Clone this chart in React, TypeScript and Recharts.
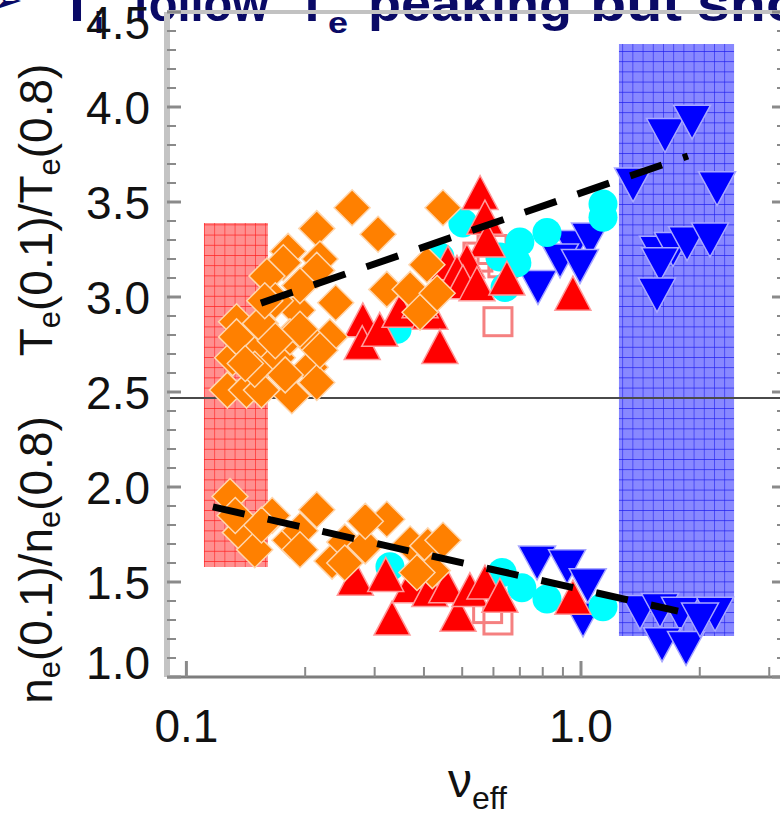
import React from "react";
import { ScatterChart, Scatter, XAxis, YAxis, ReferenceArea, ReferenceLine } from "recharts";

// collisionality axis (log) and the two peaking ratios sharing one y scale
const X_TICKS = [0.1, 0.2, 0.3, 0.4, 0.5, 0.6, 0.7, 0.8, 0.9, 1, 2, 3];
const X_LABELED = [0.1, 1];
const Y_TICKS = [
  1.0, 1.1, 1.2, 1.3, 1.4, 1.5, 1.6, 1.7, 1.8, 1.9,
  2.0, 2.1, 2.2, 2.3, 2.4, 2.5, 2.6, 2.7, 2.8, 2.9,
  3.0, 3.1, 3.2, 3.3, 3.4, 3.5, 3.6, 3.7, 3.8, 3.9,
  4.0, 4.1, 4.2, 4.3, 4.4, 4.5,
];
const Y_LABELED = [1.0, 1.5, 2.0, 2.5, 3.0, 3.5, 4.0, 4.5];

// Te(0.1)/Te(0.8) vs nu_eff
const ORANGE_TE = [
  { nu: 0.263, ratio: 3.47 }, { nu: 0.306, ratio: 3.33 }, { nu: 0.214, ratio: 3.36 },
  { nu: 0.447, ratio: 3.47 }, { nu: 0.181, ratio: 3.24 }, { nu: 0.218, ratio: 3.2 },
  { nu: 0.176, ratio: 3.18 }, { nu: 0.16, ratio: 3.11 }, { nu: 0.134, ratio: 2.87 },
  { nu: 0.131, ratio: 2.68 }, { nu: 0.127, ratio: 2.51 }, { nu: 0.142, ratio: 2.51 },
  { nu: 0.155, ratio: 2.51 }, { nu: 0.185, ratio: 2.48 }, { nu: 0.239, ratio: 2.97 },
  { nu: 0.214, ratio: 3.14 }, { nu: 0.231, ratio: 2.79 }, { nu: 0.206, ratio: 2.63 },
  { nu: 0.17, ratio: 2.68 }, { nu: 0.154, ratio: 2.86 }, { nu: 0.191, ratio: 2.93 },
  { nu: 0.145, ratio: 2.72 }, { nu: 0.134, ratio: 2.79 }, { nu: 0.149, ratio: 2.62 },
  { nu: 0.183, ratio: 2.79 }, { nu: 0.206, ratio: 2.77 }, { nu: 0.168, ratio: 2.98 },
  { nu: 0.194, ratio: 3.06 }, { nu: 0.214, ratio: 2.55 }, { nu: 0.158, ratio: 2.98 },
  { nu: 0.194, ratio: 2.83 }, { nu: 0.178, ratio: 2.59 }, { nu: 0.141, ratio: 2.65 },
  { nu: 0.218, ratio: 2.72 }, { nu: 0.168, ratio: 2.77 },
  { nu: 0.322, ratio: 3.04 }, { nu: 0.369, ratio: 3.04 }, { nu: 0.391, ratio: 2.92 },
  { nu: 0.432, ratio: 3.02 }, { nu: 0.407, ratio: 3.17 },
];
const RED_TE = [
  { nu: 0.555, ratio: 3.55 }, { nu: 0.571, ratio: 3.42 }, { nu: 0.578, ratio: 3.3 },
  { nu: 0.46, ratio: 3.18 }, { nu: 0.514, ratio: 3.19 }, { nu: 0.485, ratio: 3.13 },
  { nu: 0.502, ratio: 3.08 }, { nu: 0.545, ratio: 3.07 }, { nu: 0.649, ratio: 3.1 },
  { nu: 0.28, ratio: 2.88 }, { nu: 0.279, ratio: 2.76 }, { nu: 0.309, ratio: 2.83 },
  { nu: 0.348, ratio: 2.93 }, { nu: 0.414, ratio: 2.92 }, { nu: 0.439, ratio: 2.74 },
  { nu: 0.954, ratio: 3.02 }, { nu: 0.391, ratio: 2.98 },
];
const CYAN_TE = [
  { nu: 0.502, ratio: 3.39 }, { nu: 0.7, ratio: 3.29 }, { nu: 0.82, ratio: 3.34 },
  { nu: 1.137, ratio: 3.49 }, { nu: 1.137, ratio: 3.42 }, { nu: 0.642, ratio: 3.05 },
  { nu: 0.342, ratio: 2.83 }, { nu: 0.439, ratio: 3.21 }, { nu: 0.688, ratio: 3.18 },
  { nu: 0.623, ratio: 3.21 },
];
const PINK_TE = [
  { nu: 0.616, ratio: 2.87 }, { nu: 0.548, ratio: 3.21 }, { nu: 0.595, ratio: 3.25 },
  { nu: 0.634, ratio: 3.18 },
];
const BLUE_TE = [
  { nu: 0.778, ratio: 3.05 }, { nu: 0.954, ratio: 3.26 }, { nu: 1.054, ratio: 3.3 },
  { nu: 0.885, ratio: 3.19 }, { nu: 0.994, ratio: 3.16 },
  { nu: 1.633, ratio: 3.85 }, { nu: 1.912, ratio: 3.92 }, { nu: 1.355, ratio: 3.59 },
  { nu: 2.212, ratio: 3.57 }, { nu: 1.567, ratio: 3.23 }, { nu: 1.711, ratio: 3.25 },
  { nu: 1.857, ratio: 3.28 }, { nu: 2.123, ratio: 3.3 }, { nu: 1.586, ratio: 3.17 },
  { nu: 1.558, ratio: 3.01 },
];

// ne(0.1)/ne(0.8) vs nu_eff
const ORANGE_NE = [
  { nu: 0.129, ratio: 1.95 }, { nu: 0.137, ratio: 1.76 }, { nu: 0.149, ratio: 1.67 },
  { nu: 0.165, ratio: 1.85 }, { nu: 0.183, ratio: 1.72 }, { nu: 0.214, ratio: 1.88 },
  { nu: 0.234, ratio: 1.61 }, { nu: 0.252, ratio: 1.71 }, { nu: 0.322, ratio: 1.83 },
  { nu: 0.369, ratio: 1.7 }, { nu: 0.409, ratio: 1.69 }, { nu: 0.447, ratio: 1.72 },
  { nu: 0.42, ratio: 1.56 }, { nu: 0.384, ratio: 1.55 }, { nu: 0.194, ratio: 1.77 },
  { nu: 0.284, ratio: 1.69 }, { nu: 0.155, ratio: 1.8 }, { nu: 0.133, ratio: 1.85 },
  { nu: 0.194, ratio: 1.67 }, { nu: 0.284, ratio: 1.82 }, { nu: 0.252, ratio: 1.6 },
];
const RED_NE = [
  { nu: 0.268, ratio: 1.52 }, { nu: 0.332, ratio: 1.31 }, { nu: 0.369, ratio: 1.48 },
  { nu: 0.414, ratio: 1.46 }, { nu: 0.457, ratio: 1.48 }, { nu: 0.488, ratio: 1.33 },
  { nu: 0.523, ratio: 1.46 }, { nu: 0.571, ratio: 1.5 }, { nu: 0.623, ratio: 1.43 },
  { nu: 0.954, ratio: 1.42 }, { nu: 0.32, ratio: 1.54 },
];
const CYAN_NE = [
  { nu: 0.328, ratio: 1.58 }, { nu: 0.631, ratio: 1.55 }, { nu: 0.708, ratio: 1.47 },
  { nu: 0.82, ratio: 1.41 }, { nu: 1.137, ratio: 1.37 },
];
const PINK_NE = [{ nu: 0.616, ratio: 1.3 }, { nu: 0.58, ratio: 1.36 }];
const BLUE_NE = [
  { nu: 0.774, ratio: 1.6 }, { nu: 0.922, ratio: 1.58 }, { nu: 1.04, ratio: 1.48 },
  { nu: 1.012, ratio: 1.3 },
  { nu: 1.411, ratio: 1.34 }, { nu: 1.586, ratio: 1.35 }, { nu: 1.782, ratio: 1.33 },
  { nu: 2.186, ratio: 1.33 }, { nu: 1.605, ratio: 1.17 }, { nu: 1.846, ratio: 1.15 },
  { nu: 2.003, ratio: 1.3 },
];

// trend fits
const TE_FIT = [{ nu: 0.1545, ratio: 2.968 }, { nu: 1.867, ratio: 3.742 }];
const NE_FIT = [{ nu: 0.1167, ratio: 1.895 }, { nu: 1.762, ratio: 1.347 }];

// low / high collisionality windows
const LOW_BAND = { x1: 0.1108, x2: 0.1609, y1: 1.579, y2: 3.389 };
const HIGH_BAND = { x1: 1.248, x2: 2.443, y1: 1.216, y2: 4.332 };
const PANEL_SPLIT = 2.468;

const X_DOMAIN = [0.0893, 3.308];
const Y_DOMAIN = [1.0, 4.5];

const TICK_FONT = "'Liberation Sans Narrow', 'Liberation Sans', Arial, sans-serif";
const AXIS_GRAY = "#8a8a8a";
const HEAD_COLOR = "#0a0a66";

const isMajorY = (v: number) => Math.abs(v * 2 - Math.round(v * 2)) < 1e-6;
const isLabeledY = (v: number) => Y_LABELED.some((t) => Math.abs(t - v) < 1e-6);
const isLabeledX = (v: number) => X_LABELED.some((t) => Math.abs(t - v) < 1e-6);

function LeftTick({ x, y, payload }: any) {
  const v = payload.value;
  const major = isMajorY(v);
  const shift = Math.abs(v - 1) < 1e-6 ? -15 : Math.abs(v - 4.5) < 1e-6 ? 10 : 0;
  return (
    <g>
      <line x1={x} x2={x + (major ? 14 : 9)} y1={y} y2={y} stroke={AXIS_GRAY} strokeWidth={major ? 3 : 2} />
      {isLabeledY(v) && (
        <text x={150} y={y + shift} dy="0.36em" textAnchor="end" fontFamily={TICK_FONT} fontSize={46} fill="#111">
          {v.toFixed(1)}
        </text>
      )}
    </g>
  );
}

function RightTick({ x, y, payload }: any) {
  const major = isMajorY(payload.value);
  return <line x1={x} x2={x - (major ? 14 : 9)} y1={y} y2={y} stroke={AXIS_GRAY} strokeWidth={major ? 3 : 2} />;
}

function BottomTick({ x, y, payload }: any) {
  const v = payload.value;
  const major = isLabeledX(v);
  return (
    <g>
      <line x1={x} x2={x} y1={y} y2={y - (major ? 16 : 10)} stroke={AXIS_GRAY} strokeWidth={major ? 3 : 2} />
      {major && (
        <text x={x} y={742} textAnchor="middle" fontFamily={TICK_FONT} fontSize={46} fill="#111">
          {v === 1 ? "1.0" : v.toString()}
        </text>
      )}
    </g>
  );
}

function TopTick({ x, y, payload }: any) {
  const major = isLabeledX(payload.value);
  return <line x1={x} x2={x} y1={y} y2={y + (major ? 14 : 9)} stroke={AXIS_GRAY} strokeWidth={major ? 3 : 2} />;
}

const Diamond = ({ cx, cy }: any) => (
  <polygon
    points={`${cx},${cy - 18} ${cx + 18},${cy} ${cx},${cy + 18} ${cx - 18},${cy}`}
    fill="#ff8000" stroke="#ffd6ad" strokeWidth={1.5}
  />
);
const TriangleUp = ({ cx, cy }: any) => (
  <polygon
    points={`${cx},${cy - 17} ${cx + 18},${cy + 17} ${cx - 18},${cy + 17}`}
    fill="#ff0000" stroke="#ff9a9a" strokeWidth={1.5}
  />
);
const TriangleDown = ({ cx, cy }: any) => (
  <polygon
    points={`${cx - 18.5},${cy - 17} ${cx + 18.5},${cy - 17} ${cx},${cy + 17}`}
    fill="#0000ff" stroke="#a8a8ff" strokeWidth={1.5}
  />
);
const Dot = ({ cx, cy }: any) => <circle cx={cx} cy={cy} r={14.5} fill="#00ffff" />;
const OpenSquare = ({ cx, cy }: any) => (
  <rect x={cx - 14} y={cy - 14} width={28} height={28} fill="none" stroke="#f58080" strokeWidth={3} />
);
const NoMark = () => <g />;

// one heading word, stretched to the width it takes on the slide
const Word = ({ x, y = 21, w, size = 50, children }: any) => (
  <text
    x={x} y={y} textLength={w} lengthAdjust="spacingAndGlyphs"
    fontFamily="'Liberation Sans', Arial, sans-serif" fontWeight="bold" fontSize={size} fill={HEAD_COLOR}
  >
    {children}
  </text>
);

export default function App() {
  return (
    <div style={{ position: "absolute", left: 0, top: 0, width: 780, height: 814, overflow: "hidden", background: "#fff" }}>
      <svg width={0} height={0} style={{ position: "absolute" }}>
        <defs>
          <pattern id="lowGrid" width={10.2} height={10.2} patternUnits="userSpaceOnUse">
            <rect width={10.2} height={10.2} fill="#ff9090" />
            <path d="M0,0 H10.2 M0,0 V10.2" stroke="#ff1f1f" strokeWidth={1.2} />
          </pattern>
          <pattern id="highGrid" width={10.2} height={10.2} patternUnits="userSpaceOnUse">
            <rect width={10.2} height={10.2} fill="#8888ff" />
            <path d="M0,0 H10.2 M0,0 V10.2" stroke="#2020ee" strokeWidth={1.2} />
          </pattern>
        </defs>
      </svg>

      {/* slide heading behind the plot */}
      <svg width={780} height={60} style={{ position: "absolute", left: 0, top: 0 }}>
        <text x={-9} y={13} fontFamily="'DejaVu Sans', sans-serif" fontSize={38} fill={HEAD_COLOR}>➢</text>
        <Word x={60} w={34}>T</Word>
        <Word x={94} y={33} w={10} size={30}>i</Word>
        <Word x={133} w={136}>follow</Word>
        <Word x={296} w={32}>T</Word>
        <Word x={328} y={33} w={20} size={30}>e</Word>
        <Word x={368} w={204}>peaking</Word>
        <Word x={590} w={92}>but</Word>
        <Word x={697} w={105}>sho</Word>
      </svg>

      <div style={{ position: "absolute", left: 0, top: 0 }}>
        <ScatterChart width={790} height={814} margin={{ top: 11, right: 0, bottom: 0, left: 0 }}>
          <XAxis
            xAxisId={0} dataKey="nu" type="number" scale="log" domain={X_DOMAIN} allowDataOverflow
            ticks={X_TICKS} interval={0} height={137} tickSize={0} tickMargin={0} tickLine={false}
            axisLine={{ stroke: "#7d7d7d", strokeWidth: 3 }} tick={<BottomTick />}
          />
          <XAxis
            xAxisId="top" orientation="top" type="number" scale="log" domain={X_DOMAIN} allowDataOverflow
            ticks={X_TICKS} interval={0} height={1} tickSize={0} tickMargin={0} tickLine={false}
            axisLine={{ stroke: "#c2c2c2", strokeWidth: 4 }} tick={<TopTick />}
          />
          <YAxis
            yAxisId={0} dataKey="ratio" type="number" domain={Y_DOMAIN} allowDataOverflow
            ticks={Y_TICKS} interval={0} width={167} tickSize={0} tickMargin={0} tickLine={false}
            axisLine={{ stroke: "#c4c4c4", strokeWidth: 6 }} tick={<LeftTick />}
          />
          <YAxis
            yAxisId="right" orientation="right" type="number" domain={Y_DOMAIN} allowDataOverflow
            ticks={Y_TICKS} interval={0} width={4} tickSize={0} tickMargin={0} tickLine={false}
            axisLine={{ stroke: "#c2c2c2", strokeWidth: 3 }} tick={<RightTick />}
          />

          <ReferenceArea {...LOW_BAND} fill="url(#lowGrid)" fillOpacity={1} stroke="none" />
          <ReferenceArea {...HIGH_BAND} fill="url(#highGrid)" fillOpacity={1} stroke="none" />
          <ReferenceLine y={PANEL_SPLIT} stroke="#4a4a4a" strokeWidth={2} />

          <Scatter data={[...BLUE_TE, ...BLUE_NE]} shape={<TriangleDown />} isAnimationActive={false} />
          <Scatter data={[...PINK_TE, ...PINK_NE]} shape={<OpenSquare />} isAnimationActive={false} />
          <Scatter data={[...CYAN_TE, ...CYAN_NE]} shape={<Dot />} isAnimationActive={false} />
          <Scatter data={[...RED_TE, ...RED_NE]} shape={<TriangleUp />} isAnimationActive={false} />
          <Scatter data={[...ORANGE_TE, ...ORANGE_NE]} shape={<Diamond />} isAnimationActive={false} />

          {/* dashed fits drawn as point-less scatter lines so they sit above the markers */}
          <Scatter
            data={TE_FIT} shape={<NoMark />} fill="#000" isAnimationActive={false}
            line={{ stroke: "#000", strokeWidth: 7, strokeDasharray: "33.5 22.3" }}
          />
          <Scatter
            data={NE_FIT} shape={<NoMark />} fill="#000" isAnimationActive={false}
            line={{ stroke: "#000", strokeWidth: 7, strokeDasharray: "32.5 23.6" }}
          />
        </ScatterChart>
      </div>

      {/* axis titles */}
      <svg width={780} height={814} style={{ position: "absolute", left: 0, top: 0, pointerEvents: "none" }}>
        <g fontFamily={TICK_FONT} fontSize={46} fill="#111">
          <text transform="translate(52,210) rotate(-90)" textAnchor="middle">
            T<tspan fontSize={31} dy={8}>e</tspan>
            <tspan dy={-8}>(0.1)/T</tspan>
            <tspan fontSize={31} dy={8}>e</tspan>
            <tspan dy={-8}>(0.8)</tspan>
          </text>
          <text transform="translate(52,560) rotate(-90)" textAnchor="middle">
            n<tspan fontSize={31} dy={8}>e</tspan>
            <tspan dy={-8}>(0.1)/n</tspan>
            <tspan fontSize={31} dy={8}>e</tspan>
            <tspan dy={-8}>(0.8)</tspan>
          </text>
          <text x={448} y={797} fontSize={48}>
            ν<tspan fontSize={32} dy={12}>eff</tspan>
          </text>
        </g>
      </svg>
    </div>
  );
}
